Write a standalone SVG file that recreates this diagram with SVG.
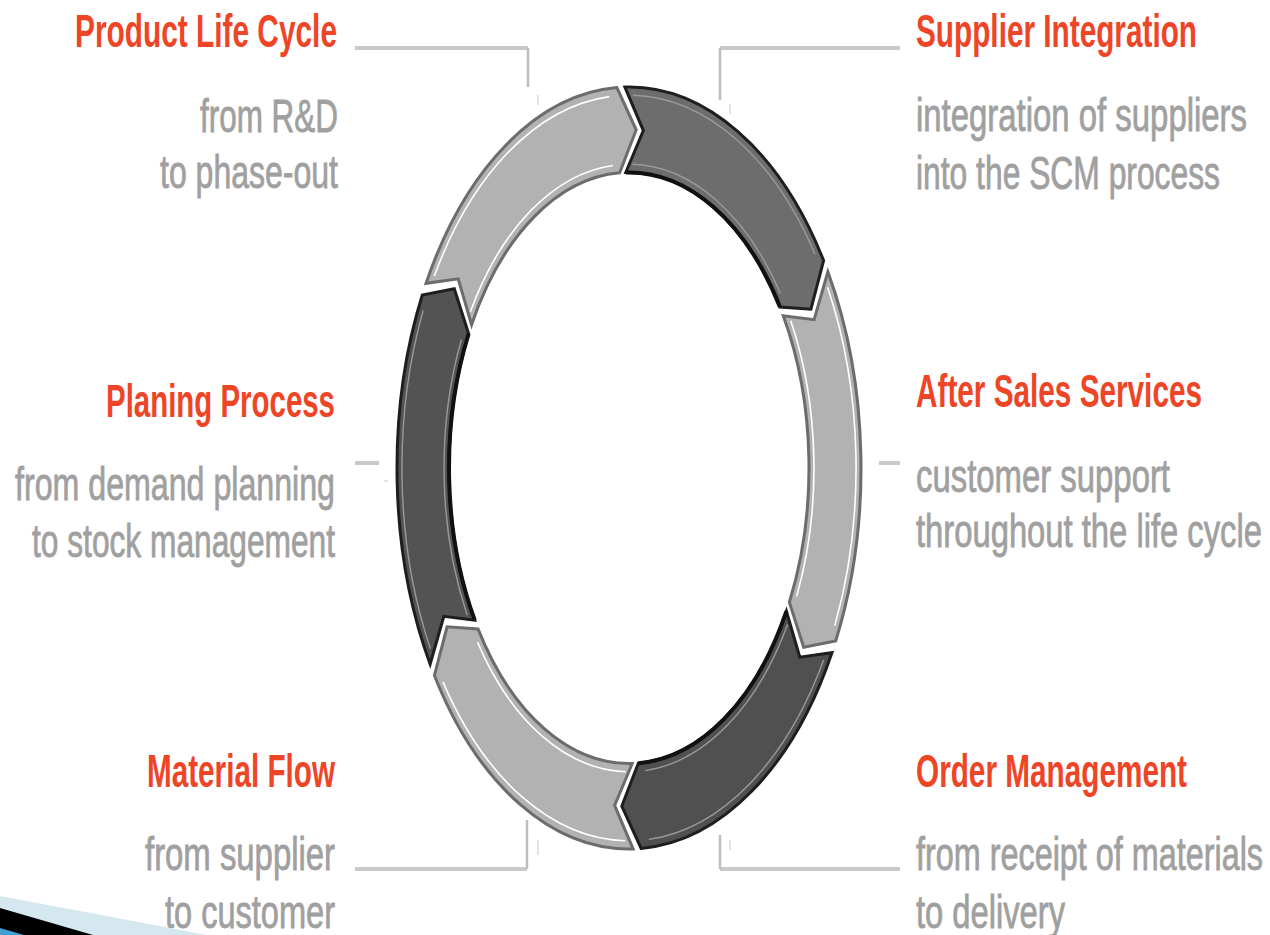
<svg xmlns="http://www.w3.org/2000/svg" xmlns:xlink="http://www.w3.org/1999/xlink" width="1270" height="935" viewBox="0 0 1270 935">
<style>
.title{font-family:"Liberation Sans",Arial,sans-serif;font-size:28px;font-weight:bold;fill:#ee4527}
.desc{font-family:"Liberation Sans",Arial,sans-serif;font-size:28px;fill:#a0a0a0;stroke:#a0a0a0;stroke-width:0.5}
.ns{vector-effect:non-scaling-stroke}
.seg-l{fill:#b2b2b2;stroke:#6c6c6c;stroke-width:3}
.seg-d{stroke:#1e1e1e;stroke-width:3}
.hl-l{fill:none;stroke:#ffffff;stroke-width:1.6}
.hl-d{fill:none;stroke:#9a9a9a;stroke-width:1.4}
.sh{fill:none;stroke:#111111;stroke-width:4}
.lead{stroke:#c9c9c9;stroke-width:4;fill:none}
.leadv{stroke:#bdbdbd;stroke-width:2.5;fill:none}
.faint{stroke:#e2e2e2;stroke-width:2;fill:none}
</style>
<defs>
<path id="seg" class="ns" d="M-112.5,-202.9 A232,232 0 0 1 112.5,-202.9 L115.2,-170.8 L87.3,-157.4 A180,180 0 0 0 -87.3,-157.4 L-83.8,-188.2 Z"/>
<path id="hlo" class="ns" d="M-103.1,-202.3 A227,227 0 0 1 103.1,-202.3"/>
<path id="hli" class="ns" d="M-84,-164.8 A185,185 0 0 1 84,-164.8"/>
<path id="shi" class="ns" d="M-87.3,-157.4 A180,180 0 0 1 87.3,-157.4"/>
</defs>
<rect width="1270" height="935" fill="#ffffff"/>

<g id="connectors">
<path class="lead" d="M355,48 H528"/>
<path class="leadv" d="M528,48 V87"/>
<path class="lead" d="M720,48 H900"/>
<path class="leadv" d="M720,48 V100"/>
<path class="lead" d="M355,463 H379"/>
<path class="lead" d="M879,463 H900"/>
<path class="lead" d="M355,869 H527"/>
<path class="leadv" d="M527,869 V820"/>
<path class="lead" d="M720,869 H900"/>
<path class="leadv" d="M720,869 V835"/>
<path class="faint" d="M538,95 V105 M730,104 V114 M538,840 V855 M730,840 V850 M384,481 H388"/>
</g>

<g id="supplier-integration">
<g transform="translate(629,468) scale(1,1.642)"><g transform="rotate(28)">
<use class="seg-d" xlink:href="#seg" href="#seg" fill="#6d6d6d"/>
<use class="hl-d" xlink:href="#hlo" href="#hlo"/><use class="hl-d" xlink:href="#hli" href="#hli"/><use class="sh" xlink:href="#shi" href="#shi"/>
</g></g>
<text class="title" transform="translate(916,47) scale(1,1.642)" textLength="281" lengthAdjust="spacingAndGlyphs">Supplier Integration</text>
<text class="desc" transform="translate(916,131) scale(1,1.642)" textLength="331" lengthAdjust="spacingAndGlyphs">integration of suppliers</text>
<text class="desc" transform="translate(916,189) scale(1,1.642)" textLength="304" lengthAdjust="spacingAndGlyphs">into the SCM process</text>
</g>

<g id="after-sales-services">
<g transform="translate(629,468) scale(1,1.642)"><g transform="rotate(88)">
<use class="seg-l" xlink:href="#seg" href="#seg"/>
<use class="hl-l" xlink:href="#hlo" href="#hlo"/><use class="hl-l" xlink:href="#hli" href="#hli"/>
</g></g>
<text class="title" transform="translate(916,407) scale(1,1.642)" textLength="286" lengthAdjust="spacingAndGlyphs">After Sales Services</text>
<text class="desc" transform="translate(916,492) scale(1,1.642)" textLength="254" lengthAdjust="spacingAndGlyphs">customer support</text>
<text class="desc" transform="translate(916,547) scale(1,1.642)" textLength="346" lengthAdjust="spacingAndGlyphs">throughout the life cycle</text>
</g>

<g id="order-management">
<g transform="translate(629,468) scale(1,1.642)"><g transform="rotate(148)">
<use class="seg-d" xlink:href="#seg" href="#seg" fill="#505050"/>
<use class="hl-d" xlink:href="#hlo" href="#hlo"/><use class="hl-d" xlink:href="#hli" href="#hli"/><use class="sh" xlink:href="#shi" href="#shi"/>
</g></g>
<text class="title" transform="translate(916,787) scale(1,1.642)" textLength="271" lengthAdjust="spacingAndGlyphs">Order Management</text>
<text class="desc" transform="translate(916,870) scale(1,1.642)" textLength="347" lengthAdjust="spacingAndGlyphs">from receipt of materials</text>
<text class="desc" transform="translate(916,928) scale(1,1.642)" textLength="149" lengthAdjust="spacingAndGlyphs">to delivery</text>
</g>

<g id="material-flow">
<g transform="translate(629,468) scale(1,1.642)"><g transform="rotate(208)">
<use class="seg-l" xlink:href="#seg" href="#seg"/>
<use class="hl-l" xlink:href="#hlo" href="#hlo"/><use class="hl-l" xlink:href="#hli" href="#hli"/>
</g></g>
<text class="title" transform="translate(147,787) scale(1,1.642)" textLength="188" lengthAdjust="spacingAndGlyphs">Material Flow</text>
<text class="desc" transform="translate(145,870) scale(1,1.642)" textLength="190" lengthAdjust="spacingAndGlyphs">from supplier</text>
<text class="desc" transform="translate(165,928) scale(1,1.642)" textLength="170" lengthAdjust="spacingAndGlyphs">to customer</text>
</g>

<g id="planing-process">
<g transform="translate(629,468) scale(1,1.642)"><g transform="rotate(268)">
<use class="seg-d" xlink:href="#seg" href="#seg" fill="#535353"/>
<use class="hl-d" xlink:href="#hlo" href="#hlo"/><use class="hl-d" xlink:href="#hli" href="#hli"/><use class="sh" xlink:href="#shi" href="#shi"/>
</g></g>
<text class="title" transform="translate(106,417) scale(1,1.642)" textLength="229" lengthAdjust="spacingAndGlyphs">Planing Process</text>
<text class="desc" transform="translate(15,500) scale(1,1.642)" textLength="320" lengthAdjust="spacingAndGlyphs">from demand planning</text>
<text class="desc" transform="translate(32,557) scale(1,1.642)" textLength="303" lengthAdjust="spacingAndGlyphs">to stock management</text>
</g>

<g id="product-life-cycle">
<g transform="translate(629,468) scale(1,1.642)"><g transform="rotate(328)">
<use class="seg-l" xlink:href="#seg" href="#seg"/>
<use class="hl-l" xlink:href="#hlo" href="#hlo"/><use class="hl-l" xlink:href="#hli" href="#hli"/>
</g></g>
<text class="title" transform="translate(75,47) scale(1,1.642)" textLength="262" lengthAdjust="spacingAndGlyphs">Product Life Cycle</text>
<text class="desc" transform="translate(200,132) scale(1,1.642)" textLength="138" lengthAdjust="spacingAndGlyphs">from R&amp;D</text>
<text class="desc" transform="translate(160,188) scale(1,1.642)" textLength="178" lengthAdjust="spacingAndGlyphs">to phase-out</text>
</g>

<g id="corner-arrow">
<polygon points="0,896 207,935 0,935" fill="#d5e8f0"/>
<polygon points="0,908 93,935 0,935" fill="#000000"/>
<polygon points="0,928 24,935 0,935" fill="#3f9fd2"/>
</g>
</svg>
